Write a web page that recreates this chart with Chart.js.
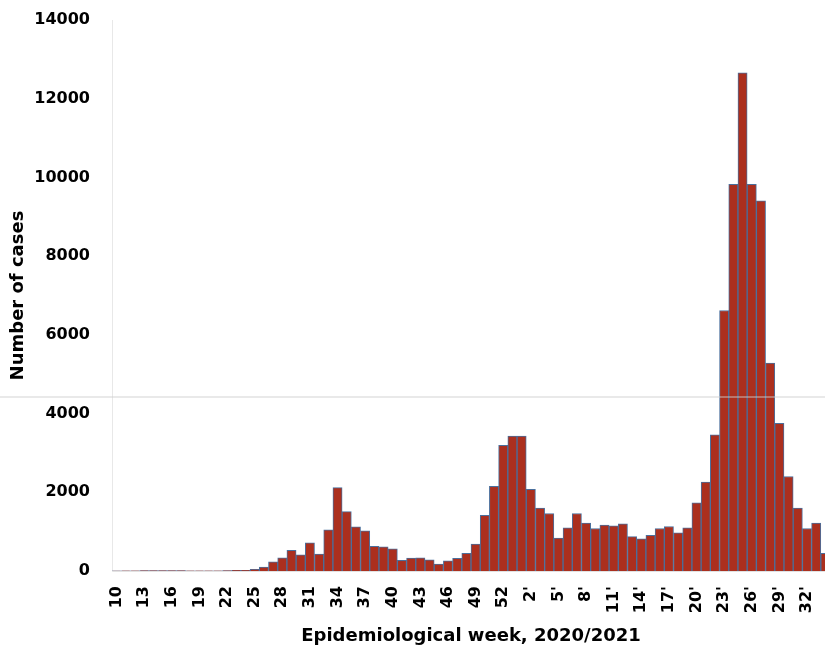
<!DOCTYPE html>
<html>
<head>
<meta charset="utf-8">
<script src="https://cdn.jsdelivr.net/npm/chart.js@4.4.1/dist/chart.umd.min.js"></script>
<style>
  html, body { margin: 0; padding: 0; background: #fff; overflow: hidden; }
  #wrap { width: 830px; height: 654px; }
</style>
</head>
<body>
<div id="wrap"><canvas id="casesChart" width="830" height="654"></canvas></div>
<script>
// weeks 10..53 of 2020, then 1'..34' of 2021
const weeks2020 = ['10','11','12','13','14','15','16','17','18','19','20','21','22','23','24','25','26','27','28','29','30','31','32','33','34','35','36','37','38','39','40','41','42','43','44','45','46','47','48','49','50','51','52','53'];
const weeks2021 = ["1'","2'","3'","4'","5'","6'","7'","8'","9'","10'","11'","12'","13'","14'","15'","16'","17'","18'","19'","20'","21'","22'","23'","24'","25'","26'","27'","28'","29'","30'","31'","32'","33'","34'"];

const cases2020 = [2, 3, 5, 8, 10, 12, 10, 8, 6, 5, 5, 6, 10, 15, 20,
  45, 100, 230, 335, 525, 410, 715, 430, 1045, 2120, 1510, 1120, 1020, 625, 615,
  565, 270, 330, 335, 285, 175, 260, 320, 450, 685, 1415, 2150, 3190, 3425];
const cases2021 = [3430, 2075, 1600, 1460, 835, 1095, 1460, 1220, 1080, 1165,
  1150, 1200, 875, 820, 905, 1080, 1130, 970, 1095, 1730, 2260, 3460, 6620,
  9825, 12660, 9825, 9405, 5280, 3750, 2400, 1600, 1080, 1220, 450];

const yTicks = [0, 2000, 4000, 6000, 8000, 10000, 12000, 14000];

const labels = weeks2020.concat(weeks2021);
const cases = cases2020.concat(cases2021);

const FONT = "'DejaVu Sans', sans-serif";

// faint horizontal streak that runs across the scanned figure
const scanLine = {
    id: 'scanLine',
    afterDraw(chart) {
        const c = chart.ctx;
        c.save();
        c.strokeStyle = 'rgba(205,205,205,0.6)';
        c.lineWidth = 1.5;
        c.beginPath();
        c.moveTo(0, 397);
        c.lineTo(chart.width, 397);
        c.stroke();
        c.restore();
    }
};

const ctx = document.getElementById('casesChart').getContext('2d');
new Chart(ctx, {
    type: 'bar',
    data: {
        labels: labels,
        datasets: [{
            label: 'Cases',
            data: cases,
            backgroundColor: '#ab2f1e',
            borderColor: '#4a6f9c',
            borderWidth: 1,
            barPercentage: 1,
            categoryPercentage: 1
        }]
    },
    options: {
        responsive: false,
        animation: false,
        devicePixelRatio: 1,
        layout: { padding: { top: 20, right: 0, bottom: 0, left: 0 } },
        scales: {
            x: {
                grid: { display: false, drawTicks: false },
                border: { display: true, color: '#e2e2e2', width: 1 },
                ticks: {
                    autoSkip: false,
                    minRotation: 90,
                    maxRotation: 90,
                    padding: 15,
                    color: '#000',
                    font: { family: FONT, weight: 'bold', size: 16 },
                    callback: function (val, i) {
                        return i % 3 === 0 ? labels[i] : '';
                    }
                },
                title: {
                    display: true,
                    text: 'Epidemiological week, 2020/2021',
                    color: '#000',
                    font: { family: FONT, weight: 'bold', size: 18 },
                    padding: { top: 4, bottom: 7 }
                },
                afterFit: function (s) {
                    s.height = 83;
                    s.paddingLeft = 0;
                    s.paddingRight = 0;
                }
            },
            y: {
                min: 0,
                max: 14000,
                grid: { display: false, drawTicks: false },
                border: { display: true, color: '#e8e8e8', width: 1 },
                afterBuildTicks: function (s) {
                    s.ticks = yTicks.map(v => ({ value: v }));
                },
                ticks: {
                    padding: 22,
                    color: '#000',
                    font: { family: FONT, weight: 'bold', size: 16 },
                    callback: function (v) { return String(v); }
                },
                title: {
                    display: true,
                    text: 'Number of cases',
                    color: '#000',
                    font: { family: FONT, weight: 'bold', size: 18 },
                    padding: { top: 8, bottom: 0 }
                },
                afterFit: function (s) {
                    s.width = 112;
                    s.paddingTop = 0;
                    s.paddingBottom = 0;
                }
            }
        },
        plugins: {
            legend: { display: false },
            tooltip: { enabled: false }
        }
    },
    plugins: [scanLine]
});
</script>
</body>
</html>
